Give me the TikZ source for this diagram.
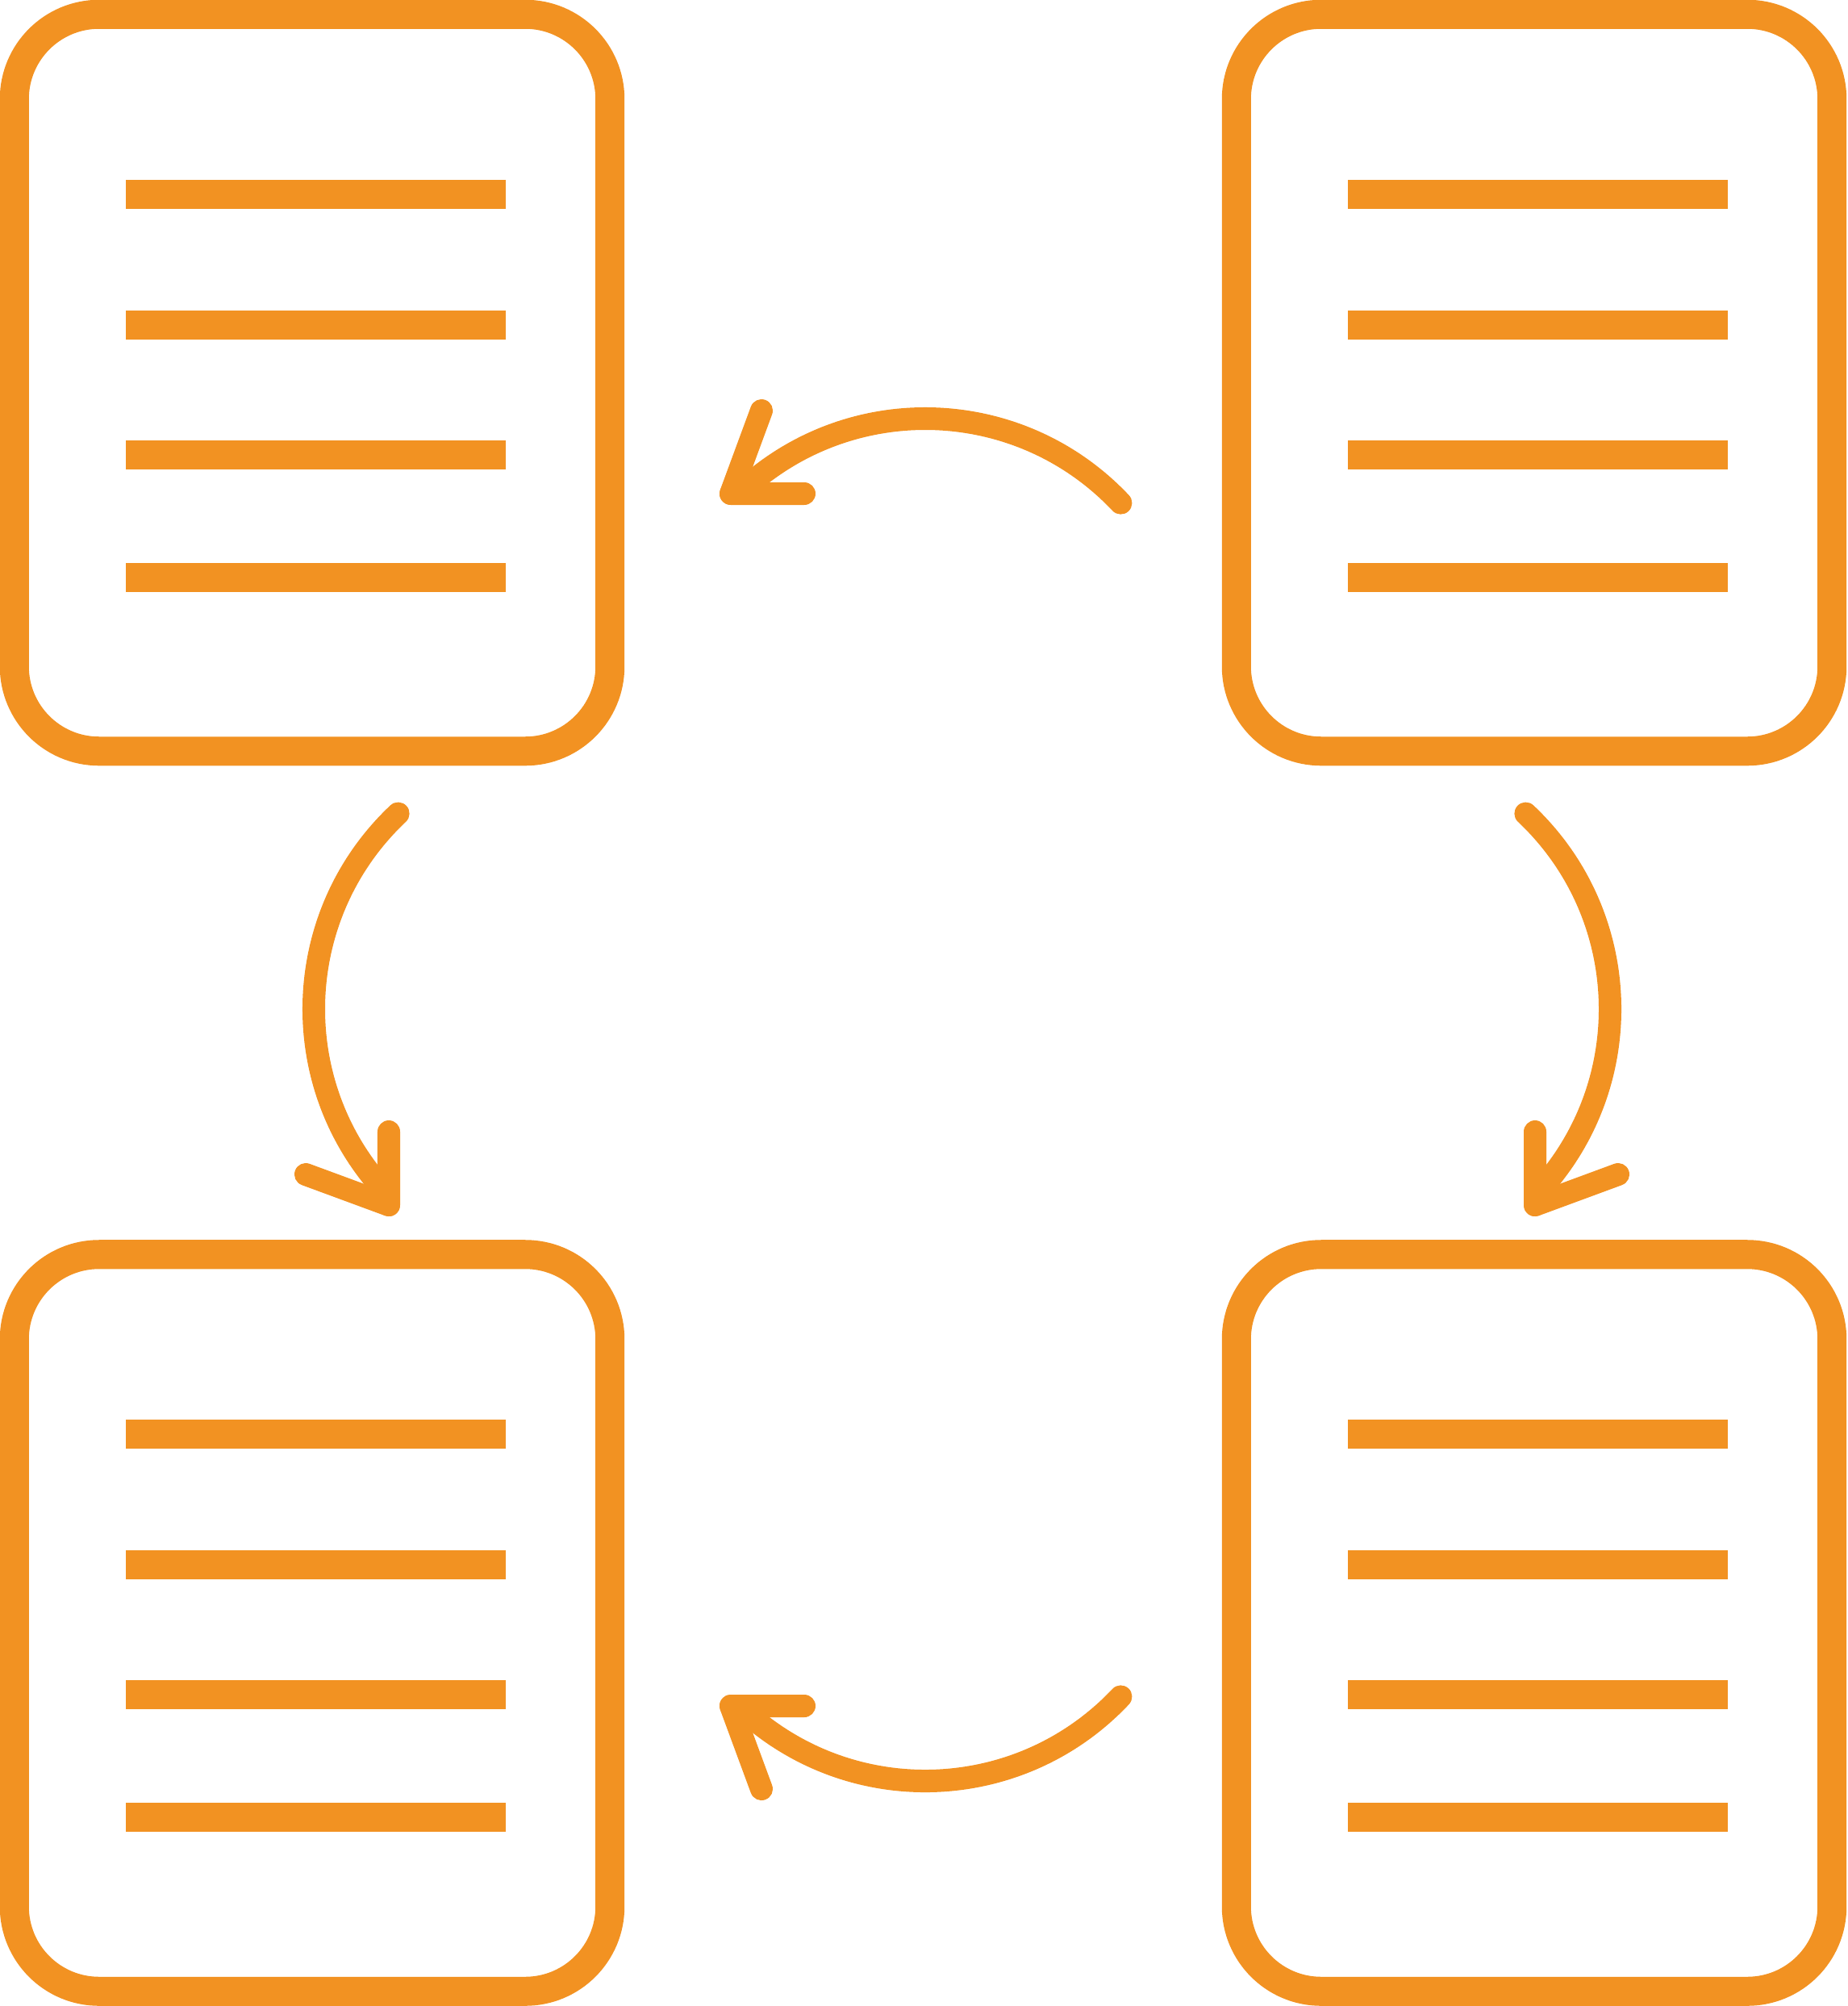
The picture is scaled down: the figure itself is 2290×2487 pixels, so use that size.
\documentclass[tikz,border=0pt]{standalone}
\usepackage{xcolor}
\usepackage{tikz}
\definecolor{docorange}{RGB}{242,146,34}
\tikzset{doc/.style={rectangle,draw=docorange,line width=0.36cm,line join=round,rounded corners=1.05cm,minimum width=7.38cm,minimum height=9.13cm,inner sep=0pt},
    bar/.style={docorange,line width=0.36cm},
    arw/.style={docorange,line width=0.28cm,line cap=round,line join=round}}

\begin{document}
\begin{tikzpicture}[x=0.01cm,y=-0.01cm]
    \useasboundingbox (0,0) rectangle (2290,2487);

    \node[doc] (tl) at (387,474.5) {};
    \node[doc] (tr) at (1902,474.5) {};
    \node[doc] (bl) at (387,2012) {};
    \node[doc] (br) at (1902,2012) {};

    \foreach \x/\y in {0/0,1515/0,0/1537,1515/1537}
        \foreach \d in {241,403,564,716}
            \draw[bar] (\x+156,\y+\d) -- (\x+627,\y+\d);

    \coordinate (topstart) at (1389.4,623.6);
    \coordinate (toptip) at (906,612);
    \coordinate (toph) at (997,612);
    \coordinate (topd) at (944,509);
    \coordinate (botstart) at (1389.4,2103.4);
    \coordinate (bottip) at (906,2115);
    \coordinate (both) at (997,2115);
    \coordinate (botd) at (944,2218);
    \coordinate (leftstart) at (493.6,1008.6);
    \coordinate (lefttip) at (482,1494);
    \coordinate (leftv) at (482,1403);
    \coordinate (leftd) at (379,1456);
    \coordinate (rightstart) at (1891.4,1008.6);
    \coordinate (righttip) at (1903,1494);
    \coordinate (rightv) at (1903,1403);
    \coordinate (rightd) at (2006,1456);

    \draw[arw] (topstart) arc[start angle=-43.3,end angle=-132,radius=333] -- (toptip);
    \draw[arw] (toph) -- (toptip) -- (topd);
    \draw[arw] (botstart) arc[start angle=43.3,end angle=132,radius=333] -- (bottip);
    \draw[arw] (both) -- (bottip) -- (botd);
    \draw[arw] (leftstart) arc[start angle=226.7,end angle=138,radius=333] -- (lefttip);
    \draw[arw] (leftv) -- (lefttip) -- (leftd);
    \draw[arw] (rightstart) arc[start angle=-46.7,end angle=42,radius=333] -- (righttip);
    \draw[arw] (rightv) -- (righttip) -- (rightd);
\end{tikzpicture}
\end{document}
